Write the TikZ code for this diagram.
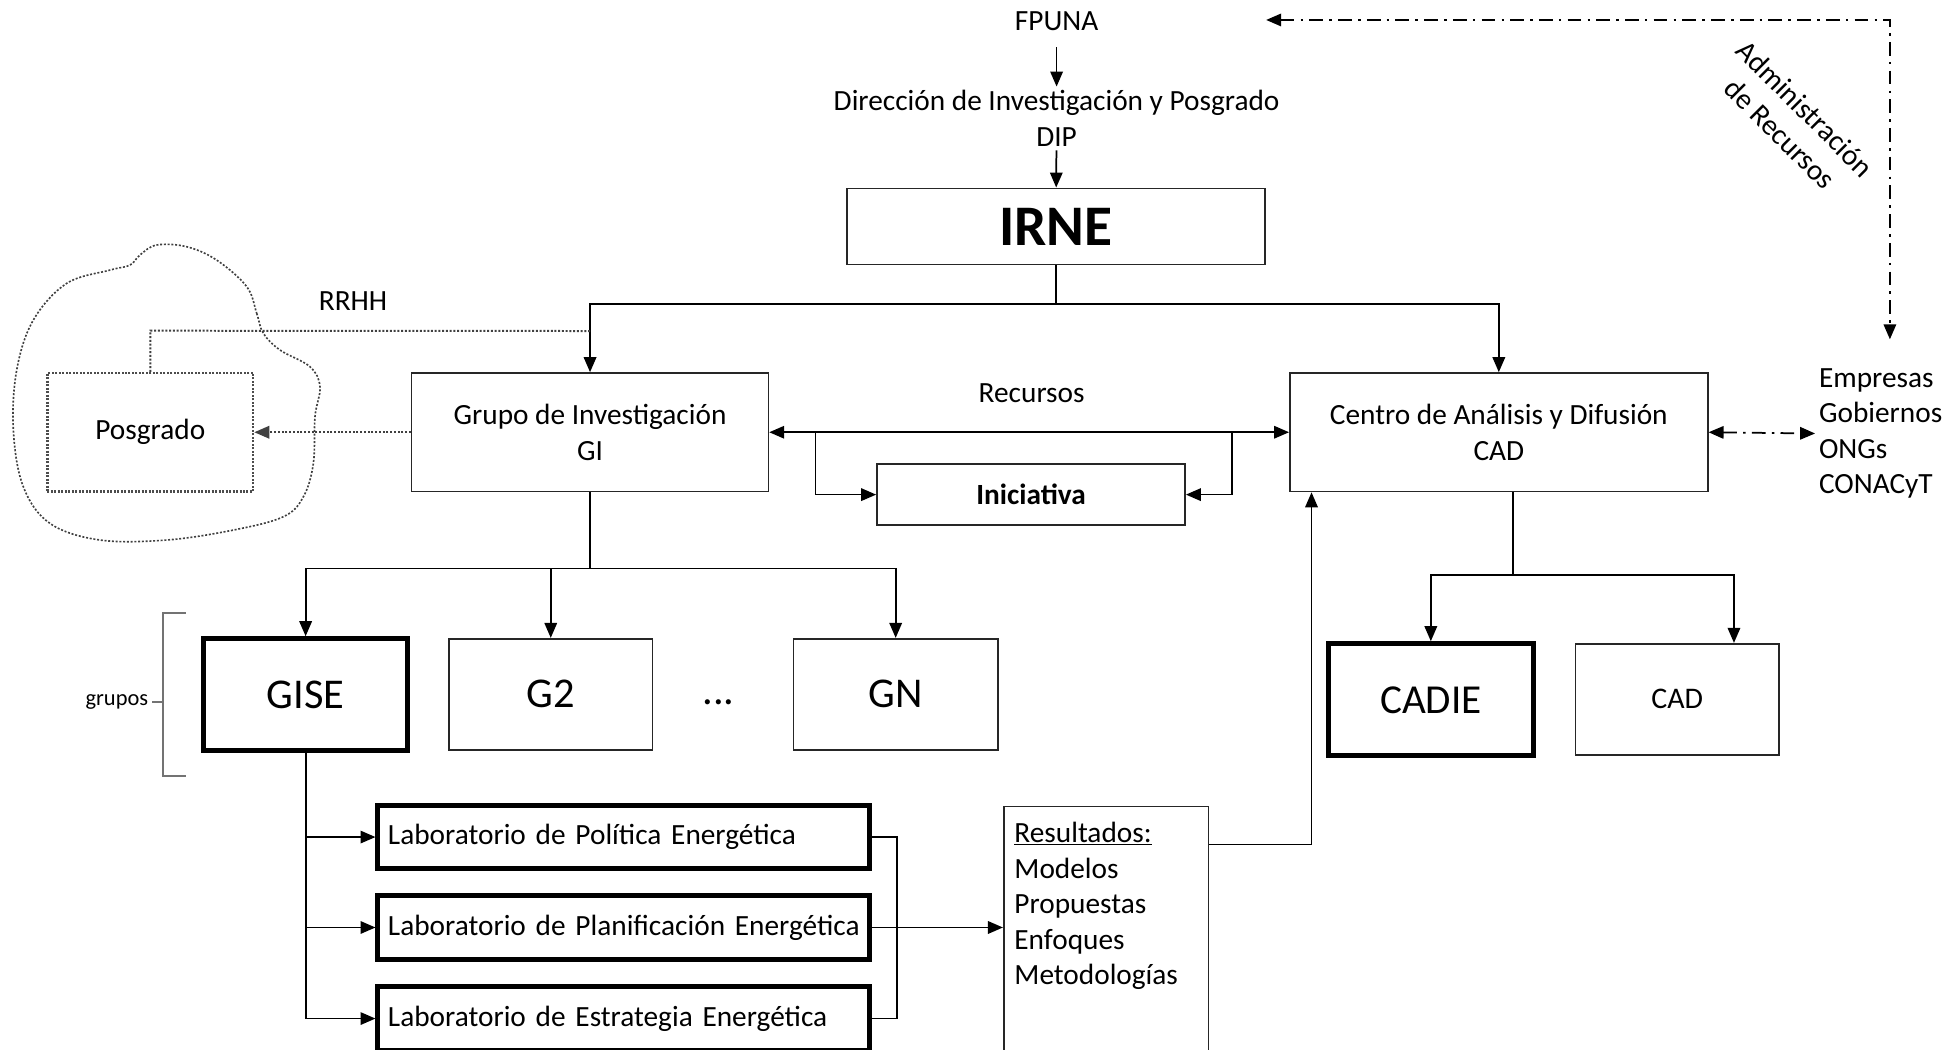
\documentclass[tikz,border=0pt]{standalone}
\usepackage{fontspec}
\setmainfont{Carlito}
\usetikzlibrary{arrows.meta,calc}
\begin{document}
\begin{tikzpicture}[x=1pt,y=-1pt,
  >={Triangle[length=12pt,width=10pt]},
  every node/.style={font=\fontsize{23.5}{28.5}\selectfont, inner sep=0pt},
  box/.style={draw=black!85, line width=1.3pt, fill=white},
  tbox/.style={draw=black, line width=4pt, fill=white},
  lbl/.style={inner sep=3pt},
  labs/.style={tbox, minimum width=394pt, minimum height=50pt, text width=378pt, inner xsep=8pt, align=left},
  conn/.style={line width=1.4pt},
  arr/.style={line width=1.4pt, ->},
  dotl/.style={line width=1.6pt, dash pattern=on 1.6pt off 1.4pt, black!75},
  dd/.style={line width=1.4pt, dash pattern=on 11pt off 5pt on 2pt off 5pt},
]
\useasboundingbox (0,0) rectangle (1568,841);
\fill[white] (0,0) rectangle (1568,841);
\begin{scope}
\clip (0,0) rectangle (1568,841);

% cloud around Posgrado
\draw[dotl, line width=1.3pt] plot[smooth cycle, tension=0.6] coordinates {
 (197.8,229.8) (205.8,251.2) (211.1,267.2) (224.5,280.6) (248.5,294.0) (256.5,310.0)
 (252.5,334.1) (251.2,371.5) (243.2,398.2) (227.2,414.2) (187.1,424.9) (133.6,432.9)
 (80.2,432.9) (40.1,419.6) (18.7,390.2) (10.7,344.7) (13.4,296.6) (26.7,256.6)
 (53.4,227.2) (88.2,216.5) (104.2,212.5) (112.2,204.4) (125.6,196.4) (149.7,197.8)
 (173.7,208.5)};

% top labels
\node[lbl] (fpuna) at (847,17) {FPUNA};
\node[lbl, align=center] (dip) at (847,95) {Dirección de Investigación y Posgrado\\DIP};
\node[box, minimum width=335pt, minimum height=61pt, font=\fontsize{46}{50}\selectfont\bfseries] (irne) at (846.5,181.5) {IRNE};

% main level
\node[box, align=center, minimum width=286pt, minimum height=95pt] (gi) at (473,346.5) {Grupo de Investigación\\GI};
\node[box, align=center, minimum width=335pt, minimum height=95pt] (cad) at (1201.5,346.5) {Centro de Análisis y Difusión\\CAD};
\node[box, minimum width=247pt, minimum height=49pt, font=\fontsize{23.5}{28.5}\selectfont\bfseries] (ini) at (826.5,396.5) {Iniciativa};
\node[draw=black!70, fill=white, line width=1.8pt, dash pattern=on 1.6pt off 1.2pt, minimum width=165pt, minimum height=95pt] (pos) at (120.5,346.5) {Posgrado};
\node[lbl] (rec) at (827,315) {Recursos};
\node[lbl] (rrhh) at (283,241) {RRHH};
\node[lbl, align=left, anchor=west] (ext) at (1455,347.5) {Empresas\\Gobiernos\\ONGs\\CONACyT};
\node[lbl, align=center, rotate=-45] (admt) at (1437,97) {Administración\\de Recursos};

% groups
\node[tbox, minimum width=164pt, minimum height=90pt, font=\fontsize{34}{36}\selectfont] (gise) at (245,557) {GISE};
\node[box, minimum width=163pt, minimum height=89pt, font=\fontsize{34}{36}\selectfont] (g2) at (441.5,556.5) {G2};
\node[font=\fontsize{34}{36}\selectfont] (dots) at (576,563) {...};
\node[box, minimum width=164pt, minimum height=89pt, font=\fontsize{34}{36}\selectfont] (gn) at (718,556.5) {GN};
\node[tbox, minimum width=164pt, minimum height=90pt, font=\fontsize{33}{36}\selectfont] (cadie) at (1147,561) {CADIE};
\node[box, minimum width=163pt, minimum height=89pt, font=\fontsize{24}{28}\selectfont] (cad2) at (1344.5,560.5) {CAD};
\node[lbl, anchor=east, font=\fontsize{18}{20}\selectfont] (grp) at (122,563) {grupos};

% labs
\node[labs] (lab1) at (500,671) {\mbox{Laboratorio de Política Energética}};
\node[labs, minimum height=51pt] (lab2) at (500,743.5) {\mbox{Laboratorio de Planificación Energética}};
\node[labs, minimum height=51pt] (lab3) at (500,816.5) {\mbox{Laboratorio de Estrategia Energética}};

% results
\node[box, minimum width=164pt, minimum height=230pt, anchor=north west] (res) at (804,646) {};
\node[anchor=north west, align=left] (restxt) at ($(res.north west)+(9,13)$) {\underline{Resultados:}\\Modelos\\Propuestas\\Enfoques\\Metodologías};

% connectors
\draw[arr, shorten <=10pt] (fpuna) -- (dip);
\draw[arr] (dip) -- (irne);
\draw[arr] (irne.south) -- ++(0,31) -| (gi.north);
\draw[arr] (irne.south) -- ++(0,31) -| (cad.north);
\draw[dotl] (pos.north) -- ++(0,-33) -- ($(gi.north)+(0,-33)$);
\draw[dotl, ->] (gi.west) -- (pos.east);
\draw[conn, <->] (gi.east) -- (cad.west);
\draw[arr] ($(gi.east)+(37,0)$) |- (ini.west);
\draw[arr] ($(cad.west)+(-46,0)$) |- (ini.east);
\draw[arr] (gi.south) -- ++(0,61) -| (gise.north);
\draw[arr] (gi.south) -- ++(0,61) -| (g2.north);
\draw[arr] (gi.south) -- ++(0,61) -| (gn.north);
\draw[arr] (gise.south) |- (lab1.west);
\draw[arr] (gise.south) |- (lab2.west);
\draw[arr] (gise.south) |- (lab3.west);
\draw[conn] (lab1.east) -- ++(20,0) |- (lab3.east);
\draw[arr] (lab2.east) -- (lab2.east -| res.west);
\draw[arr] ($(res.north east)+(0,31)$) -| ($(cad.south west)+(18,0)$);
\draw[arr] ($(cad.south)+(11.5,0)$) -- ++(0,66) -| (cadie.north);
\draw[arr] ($(cad.south)+(11.5,0)$) -- ++(0,66) -| ($(cad2.north)+(45.5,0)$);
\draw[dd, <->] (cad.east) -- (ext.west);
\coordinate (admL) at (1015,16);
\coordinate (admB) at (1515,272);
\draw[dd, <->] (admL) -| (admB);

% bracket
\draw[black!55, line width=1.6pt] (149,491) -- (131,491) -- (131,622) -- (149,622);
\draw[black!55, line width=1.6pt] (131,563) -- (grp.east);
\end{scope}
\end{tikzpicture}
\end{document}
